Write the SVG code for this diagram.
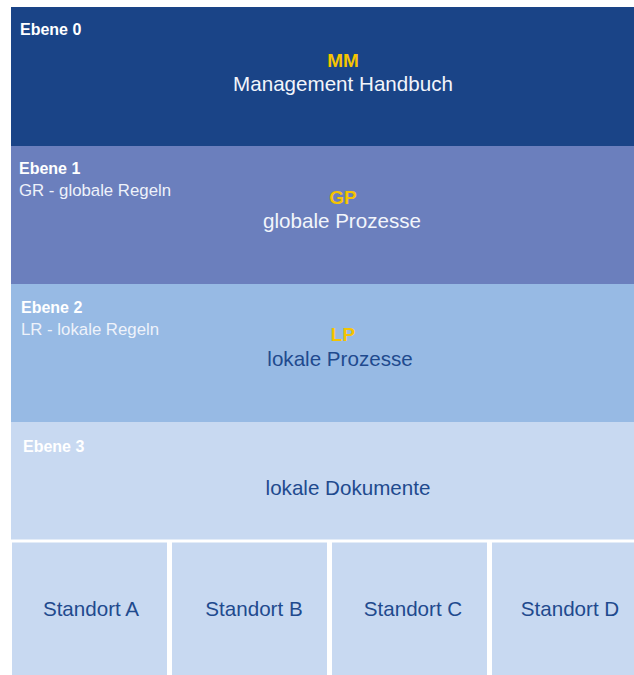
<svg xmlns="http://www.w3.org/2000/svg" width="634" height="675" viewBox="0 0 634 675">
<style>
text{font-family:"Liberation Sans",Arial,sans-serif}
.lvl{font-size:16px;font-weight:bold;fill:#ffffff}
.sub{font-size:16.8px;fill:#eef2fa}
.code{font-size:19px;font-weight:bold;fill:#f5c400;text-anchor:middle}
.main{font-size:20.6px;text-anchor:middle}
.w{fill:#f2f5fb}
.d{fill:#1f4a8e}
.site{fill:#c8d9f1}
</style>
<rect width="634" height="675" fill="#ffffff"/>
<g id="ebene0">
<rect x="11" y="7" width="623" height="139" fill="#1a4487"/>
<text class="lvl" x="20" y="35">Ebene 0</text>
<text class="code" x="343" y="67">MM</text>
<text class="main w" x="343" y="91">Management Handbuch</text>
</g>
<g id="ebene1">
<rect x="11" y="146" width="623" height="138" fill="#6b7fbd"/>
<text class="lvl" x="19" y="174">Ebene 1</text>
<text class="sub" x="19" y="196">GR - globale Regeln</text>
<text class="code" x="343" y="204">GP</text>
<text class="main w" x="342" y="228">globale Prozesse</text>
</g>
<g id="ebene2">
<rect x="11" y="284" width="623" height="138" fill="#97bae4"/>
<text class="lvl" x="21" y="313">Ebene 2</text>
<text class="sub" x="21" y="335">LR - lokale Regeln</text>
<text class="code" x="343" y="341">LP</text>
<text class="main d" x="340" y="366">lokale Prozesse</text>
</g>
<g id="ebene3">
<rect x="11" y="422" width="623" height="117.5" fill="#c8d9f1"/>
<text class="lvl" x="23" y="452">Ebene 3</text>
<text class="main d" x="348" y="495">lokale Dokumente</text>
</g>
<g id="standortA">
<rect class="site" x="12" y="542.5" width="155" height="132.5"/>
<text class="main d" x="91" y="616">Standort A</text>
</g>
<g id="standortB">
<rect class="site" x="172" y="542.5" width="155" height="132.5"/>
<text class="main d" x="254" y="616">Standort B</text>
</g>
<g id="standortC">
<rect class="site" x="332" y="542.5" width="155" height="132.5"/>
<text class="main d" x="413" y="616">Standort C</text>
</g>
<g id="standortD">
<rect class="site" x="492" y="542.5" width="142" height="132.5"/>
<text class="main d" x="570" y="616">Standort D</text>
</g>
</svg>
